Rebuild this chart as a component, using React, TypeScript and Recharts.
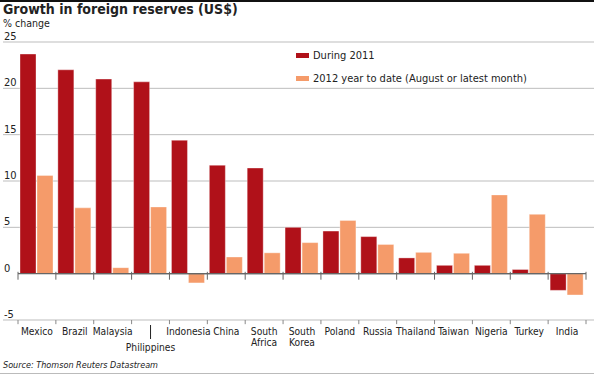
import {
  BarChart,
  Bar,
  XAxis,
  YAxis,
  CartesianGrid,
  ReferenceLine,
  Legend,
} from "recharts";

const countries = [
  "Mexico",
  "Brazil",
  "Malaysia",
  "Philippines",
  "Indonesia",
  "China",
  "South Africa",
  "South Korea",
  "Poland",
  "Russia",
  "Thailand",
  "Taiwan",
  "Nigeria",
  "Turkey",
  "India",
];
const during2011 = [23.7, 22.0, 21.0, 20.7, 14.4, 11.7, 11.4, 5.0, 4.6, 4.0, 1.7, 0.9, 0.9, 0.45, -1.8];
const ytd2012 = [10.6, 7.1, 0.65, 7.2, -1.0, 1.8, 2.25, 3.35, 5.75, 3.15, 2.3, 2.2, 8.5, 6.4, -2.3];
const yTicks = [-5, 0, 5, 10, 15, 20, 25];
const gridValues = [-5, 5, 10, 15, 20, 25];
const leaderLabels = ["Philippines"];

const FONT = "'DejaVu Sans Condensed', 'Liberation Sans', sans-serif";
const RED = "#b01119";
const ORANGE = "#f59b6a";
const INK = "#222";

const data = countries.map((country, i) => ({
  country,
  during2011: during2011[i],
  ytd2012: ytd2012[i],
}));

const CountryTick = ({ x, y, payload }: any) => {
  const label: string = payload.value;
  if (leaderLabels.includes(label)) {
    return (
      <g>
        <line x1={x} x2={x} y1={y + 5} y2={y + 19} stroke={INK} strokeWidth={1} />
        <text x={x} y={y + 31} textAnchor="middle" fontSize={10.2} fill={INK} fontFamily={FONT}>
          {label}
        </text>
      </g>
    );
  }
  const lines = label.split(" ");
  return (
    <text x={x} y={y + 15} textAnchor="middle" fontSize={10.2} fill={INK} fontFamily={FONT}>
      {lines.map((l, i) => (
        <tspan key={i} x={x} dy={i === 0 ? 0 : 11}>
          {l}
        </tspan>
      ))}
    </text>
  );
};

const ValueTick = ({ y, payload }: any) => (
  <text x={4} y={y - 2} fontSize={11} fill={INK} fontFamily={FONT}>
    {payload.value}
  </text>
);

const LegendContent = ({ payload }: any) => (
  <div style={{ fontFamily: FONT, fontSize: 11, color: INK }}>
    {(payload || []).map((e: any) => (
      <div key={e.value} style={{ display: "flex", alignItems: "center", height: 23 }}>
        <span style={{ width: 13, height: 5, background: e.color, marginRight: 4 }} />
        {e.value}
      </div>
    ))}
  </div>
);

export default function App() {
  const first = countries[0];
  const last = countries[countries.length - 1];
  return (
    <div
      style={{
        position: "absolute",
        left: 0,
        top: 0,
        width: 594,
        height: 376,
        background: "#fff",
        fontFamily: FONT,
        color: INK,
      }}
    >
      <div style={{ position: "absolute", left: 0, top: 0, width: 594, height: 2, background: "#111" }} />
      <div
        style={{
          position: "absolute",
          left: 3,
          top: 2,
          fontSize: 14,
          fontWeight: "bold",
          lineHeight: "14px",
        }}
      >
        Growth in foreign reserves (US$)
      </div>
      <div style={{ position: "absolute", left: 3, top: 17, fontSize: 10.5, lineHeight: "12px" }}>
        % change
      </div>
      <BarChart
        width={594}
        height={376}
        data={data}
        margin={{ top: 42, right: 0, bottom: 16, left: 0 }}
        barCategoryGap={2}
        barGap={1}
      >
        <CartesianGrid vertical={false} stroke="#bdbdbd" horizontalValues={gridValues} />
        <XAxis
          dataKey="country"
          padding={{ left: 15, right: 8 }}
          height={40}
          axisLine={false}
          tickLine={false}
          tickSize={0}
          tickMargin={0}
          interval={0}
          tick={<CountryTick />}
        />
        <YAxis
          domain={[-5, 25]}
          ticks={yTicks}
          width={3}
          axisLine={false}
          tickLine={false}
          interval={0}
          tick={<ValueTick />}
        />
        <Legend
          layout="vertical"
          align="center"
          verticalAlign="middle"
          itemSorter="dataKey"
          wrapperStyle={{ top: 44, left: 296, width: "auto" }}
          content={<LegendContent />}
        />
        <Bar
          dataKey="during2011"
          name="During 2011"
          fill={RED}
          stroke="#fff"
          strokeOpacity={0.35}
          isAnimationActive={false}
        />
        <Bar
          dataKey="ytd2012"
          name="2012 year to date (August or latest month)"
          fill={ORANGE}
          stroke="#fff"
          strokeOpacity={0.35}
          isAnimationActive={false}
        />
        <ReferenceLine
          segment={[{ x: first, y: 0 }, { x: last, y: 0 }]}
          position="start"
          stroke="#666"
          strokeWidth={1.2}
          ifOverflow="visible"
        />
        <ReferenceLine
          segment={[{ x: first, y: 0 }, { x: last, y: 0 }]}
          position="end"
          stroke="#666"
          strokeWidth={1.2}
          ifOverflow="visible"
        />
        {countries.map((c) => (
          <ReferenceLine
            key={"z" + c}
            segment={[{ x: c, y: 0.2 }, { x: c, y: -0.65 }]}
            position="start"
            stroke="#666"
            ifOverflow="visible"
          />
        ))}
        <ReferenceLine
          segment={[{ x: last, y: 0.2 }, { x: last, y: -0.65 }]}
          position="end"
          stroke="#666"
          ifOverflow="visible"
        />
        {countries.map((c) => (
          <ReferenceLine
            key={"b" + c}
            segment={[{ x: c, y: -5 }, { x: c, y: -5.45 }]}
            position="start"
            stroke="#888"
            ifOverflow="visible"
          />
        ))}
        <ReferenceLine
          segment={[{ x: last, y: -5 }, { x: last, y: -5.45 }]}
          position="end"
          stroke="#888"
          ifOverflow="visible"
        />
      </BarChart>
      <div
        style={{
          position: "absolute",
          left: 3,
          top: 360,
          fontSize: 9,
          fontStyle: "italic",
          lineHeight: "11px",
        }}
      >
        Source: Thomson Reuters Datastream
      </div>
      <div style={{ position: "absolute", left: 0, top: 373, width: 594, height: 1, background: "#bbb" }} />
    </div>
  );
}
